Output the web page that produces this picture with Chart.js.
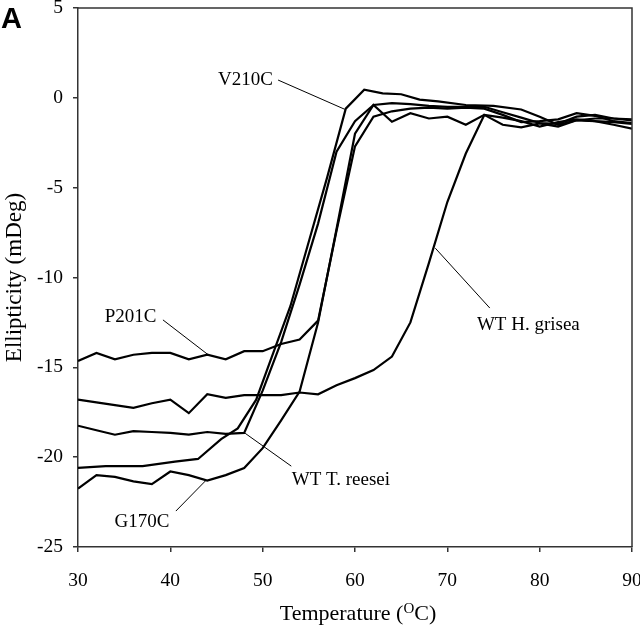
<!DOCTYPE html>
<html>
<head>
<meta charset="utf-8">
<script src="https://cdn.jsdelivr.net/npm/chart.js@4.4.1/dist/chart.umd.min.js"></script>
<style>
  html, body { margin: 0; padding: 0; background: #fff; }
  #wrap { position: relative; width: 640px; height: 626px; }
  #panel { position: absolute; left: 1px; top: 2px; font: bold 29px "Liberation Sans", Arial, sans-serif; color: #000; }
</style>
</head>
<body>
<div id="wrap">
  <canvas id="c" width="640" height="626"></canvas>
  <div id="panel">A</div>
</div>
<script>
// ---- data (temperature in °C, ellipticity in mDeg) ----
const temps = [30,32,34,36,38,40,42,44,46,48,50,52,54,56,58,60,62,64,66,68,70,72,74,76,78,80,82,84,86,88,90];
const p201c = [-14.65,-14.2,-14.55,-14.3,-14.2,-14.2,-14.55,-14.3,-14.55,-14.1,-14.1,-13.7,-13.45,-12.4,-7.4,-2.7,-1.05,-0.75,-0.6,-0.55,-0.6,-0.55,-0.6,-0.95,-1.35,-1.3,-1.2,-0.85,-1.0,-1.3,-1.4];
const wtHgrisea = [-16.8,-16.95,-17.1,-17.25,-17.0,-16.8,-17.55,-16.5,-16.7,-16.55,-16.55,-16.55,-16.4,-16.5,-16.0,-15.6,-15.15,-14.4,-12.5,-9.2,-5.8,-3.1,-0.95,-1.5,-1.64,-1.42,-1.6,-1.25,-1.3,-1.5,-1.72];
const wtTreesei = [-18.25,-18.5,-18.75,-18.55,-18.6,-18.65,-18.75,-18.6,-18.7,-18.65,-16.3,-13.6,-10.4,-7.0,-3.0,-1.3,-0.4,-0.3,-0.35,-0.45,-0.5,-0.5,-0.5,-0.8,-1.1,-1.4,-1.45,-1.05,-0.95,-1.15,-1.25];
const g170c = [-21.75,-21.0,-21.1,-21.35,-21.5,-20.8,-21.0,-21.3,-21.0,-20.6,-19.5,-17.95,-16.35,-12.5,-7.3,-2.0,-0.4,-1.33,-0.86,-1.15,-1.05,-1.5,-0.95,-1.1,-1.3,-1.6,-1.35,-1.2,-1.3,-1.35,-1.45];
const v210cTemps = [30,33,37,40.5,43,45.5,47.3,49.3,51,53,55,57,59,61,63,65,67,69,72,75,78,80,82,84,86,88,90];
const v210c = [-20.6,-20.5,-20.5,-20.25,-20.1,-19.0,-18.4,-16.8,-14.4,-11.6,-8.0,-4.4,-0.6,0.45,0.25,0.2,-0.1,-0.2,-0.4,-0.45,-0.65,-1.05,-1.5,-1.25,-1.15,-1.15,-1.2];

// axis ranges / ticks
const xTicks = [30,40,50,60,70,80,90];
const yTicks = [-25,-20,-15,-10,-5,0,5];

// curve labels: text, anchor (data units), alignment, leader line from -> to (data units)
const labelNames = ['V210C','P201C','WT T. reesei','G170C','WT H. grisea'];
const labelAnchors = [[51.1,1.0],[38.5,-12.22],[53.15,-21.27],[33.95,-23.6],[73.2,-12.64]];
const labelAligns = ['right','right','left','left','left'];
const leaderFrom = [[51.67,0.99],[39.2,-12.36],[48.1,-18.67],[40.6,-23.0],[74.6,-11.7]];
const leaderTo = [[58.9,-0.64],[44.1,-14.3],[53.1,-20.5],[43.9,-21.27],[68.7,-8.37]];

const toPts = (xs, ys) => xs.map((x, i) => ({x: x, y: ys[i]}));
const lineStyle = { borderColor: '#000', borderWidth: 2.2, pointRadius: 0, showLine: true, tension: 0, fill: false };

const serif = '"Liberation Serif", "Times New Roman", serif';

const decor = {
  id: 'decor',
  afterDraw(chart) {
    const ctx = chart.ctx, a = chart.chartArea;
    const xs = chart.scales.x, ys = chart.scales.y;
    ctx.save();
    // frame top & right
    ctx.strokeStyle = '#333';
    ctx.lineWidth = 1.5;
    ctx.beginPath();
    ctx.moveTo(a.left, a.top); ctx.lineTo(a.right, a.top); ctx.lineTo(a.right, a.bottom);
    ctx.stroke();
    // leader lines
    ctx.strokeStyle = '#000';
    ctx.lineWidth = 1;
    for (let i = 0; i < labelNames.length; i++) {
      ctx.beginPath();
      ctx.moveTo(xs.getPixelForValue(leaderFrom[i][0]), ys.getPixelForValue(leaderFrom[i][1]));
      ctx.lineTo(xs.getPixelForValue(leaderTo[i][0]), ys.getPixelForValue(leaderTo[i][1]));
      ctx.stroke();
    }
    // labels
    ctx.fillStyle = '#000';
    ctx.font = '19px ' + serif;
    ctx.textBaseline = 'middle';
    for (let i = 0; i < labelNames.length; i++) {
      ctx.textAlign = labelAligns[i];
      ctx.fillText(labelNames[i], xs.getPixelForValue(labelAnchors[i][0]), ys.getPixelForValue(labelAnchors[i][1]));
    }
    // y title
    ctx.save();
    ctx.translate(15, (a.top + a.bottom) / 2);
    ctx.rotate(-Math.PI / 2);
    ctx.font = '23px ' + serif;
    ctx.textAlign = 'center';
    ctx.textBaseline = 'middle';
    ctx.fillText('Ellipticity (mDeg)', 0, 0);
    ctx.restore();
    // x title with superscript O
    const big = '22px ' + serif, small = '15px ' + serif;
    const p1 = 'Temperature (', p2 = 'O', p3 = 'C)';
    ctx.font = big; const w1 = ctx.measureText(p1).width, w3 = ctx.measureText(p3).width;
    ctx.font = small; const w2 = ctx.measureText(p2).width;
    const total = w1 + w2 + w3;
    let x0 = (a.left + a.right) / 2 - total / 2 + 3;
    const yb = 620;
    ctx.textAlign = 'left';
    ctx.textBaseline = 'alphabetic';
    ctx.font = big; ctx.fillText(p1, x0, yb);
    ctx.font = small; ctx.fillText(p2, x0 + w1, yb - 7);
    ctx.font = big; ctx.fillText(p3, x0 + w1 + w2, yb);
    ctx.restore();
  }
};

new Chart(document.getElementById('c'), {
  type: 'scatter',
  data: {
    datasets: [
      Object.assign({ label: 'P201C', data: toPts(temps, p201c) }, lineStyle),
      Object.assign({ label: 'WT H. grisea', data: toPts(temps, wtHgrisea) }, lineStyle),
      Object.assign({ label: 'WT T. reesei', data: toPts(temps, wtTreesei) }, lineStyle),
      Object.assign({ label: 'G170C', data: toPts(temps, g170c) }, lineStyle),
      Object.assign({ label: 'V210C', data: toPts(v210cTemps, v210c) }, lineStyle)
    ]
  },
  options: {
    responsive: false,
    animation: false,
    devicePixelRatio: 1,
    layout: { padding: { top: 8, right: 8, left: 0, bottom: 0 } },
    plugins: { legend: { display: false }, tooltip: { enabled: false } },
    scales: {
      x: {
        type: 'linear', min: 30, max: 90,
        afterBuildTicks: s => { s.ticks = xTicks.map(v => ({ value: v })); },
        afterFit: s => { s.height = 79; s.paddingLeft = 0; s.paddingRight = 0; },
        grid: { drawOnChartArea: false, drawTicks: true, tickLength: 5, color: '#333', lineWidth: 1.5 },
        border: { display: true, color: '#333', width: 1.5 },
        ticks: { color: '#000', font: { family: serif, size: 19.5 }, padding: 17, maxRotation: 0 }
      },
      y: {
        type: 'linear', min: -25, max: 5,
        afterBuildTicks: s => { s.ticks = yTicks.map(v => ({ value: v })); },
        afterFit: s => { s.width = 78; s.paddingTop = 0; s.paddingBottom = 0; },
        grid: { drawOnChartArea: false, drawTicks: true, tickLength: 5, color: '#333', lineWidth: 1.5 },
        border: { display: true, color: '#333', width: 1.5 },
        ticks: { color: '#000', font: { family: serif, size: 19.5 }, padding: 10 }
      }
    }
  },
  plugins: [decor]
});
</script>
</body>
</html>
